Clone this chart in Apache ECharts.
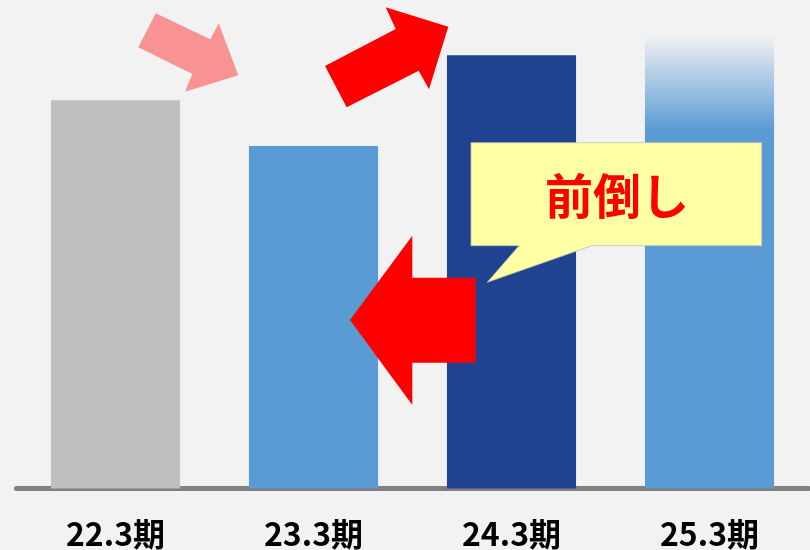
<!DOCTYPE html>
<html>
<head>
<meta charset="utf-8">
<script src="https://cdn.jsdelivr.net/npm/echarts@6/dist/echarts.min.js"></script>
<style>
html,body{margin:0;padding:0;background:#f2f2f2;}
#main{width:810px;height:550px;}
</style>
</head>
<body>
<div id="main"></div>
<script>
var categories = ['22.3期', '23.3期', '24.3期', '25.3期'];
var values = [79.5, 70.1, 88.7, 92.8];
var barColors = ['#bfbfbf', '#5b9bd5', '#1f4391', 'gradient'];
var calloutText = '前倒し';

var chart = echarts.init(document.getElementById('main'));

var dataItems = values.map(function (v, i) {
  var c = barColors[i];
  if (c === 'gradient') {
    c = new echarts.graphic.LinearGradient(0, 0, 0, 1, [
      { offset: 0, color: 'rgba(91,155,213,0)' },
      { offset: 0.21, color: '#5b9bd5' },
      { offset: 1, color: '#5b9bd5' }
    ]);
  }
  return { value: v, itemStyle: { color: c } };
});

var option = {
  backgroundColor: '#f2f2f2',
  animation: false,
  grid: { left: 16.5, right: 1.5, top: 0, bottom: 61.5, containLabel: false },
  xAxis: {
    type: 'category',
    data: categories,
    axisLine: { show: true, lineStyle: { color: '#808080', width: 5 } },
    axisTick: { show: false },
    axisLabel: {
      margin: 29,
      fontSize: 32,
      fontWeight: 'bold',
      color: '#000000',
      fontFamily: 'Noto Sans CJK JP'
    }
  },
  yAxis: {
    type: 'value',
    min: 0,
    max: 100,
    show: false,
    splitLine: { show: false }
  },
  series: [{
    type: 'bar',
    data: dataItems,
    barWidth: '65.2%',
    z: 2
  }],
  graphic: [
    {
      type: 'polygon', z: 100,
      shape: { points: [[155.7,13.3],[210.3,39.3],[218.7,23.3],[238.3,75.3],[185,91.7],[192.3,74],[138.3,47.3]] },
      style: { fill: '#f99393' }
    },
    {
      type: 'polygon', z: 100,
      shape: { points: [[325,66],[395.7,29],[385.7,7.3],[448.3,26.7],[429,89.3],[418.7,70.7],[346.7,107.3]] },
      style: { fill: '#ff0000' }
    },
    {
      type: 'polygon', z: 100,
      shape: { points: [[350,320],[412.3,235.7],[412.3,277.7],[475.7,277.7],[475.7,362.7],[412.3,362.7],[412.3,405]] },
      style: { fill: '#ff0000' }
    },
    {
      type: 'polygon', z: 101,
      shape: { points: [[471,142.7],[761.7,142.7],[761.7,245.7],[591.7,245.7],[487.3,282.3],[519,245.7],[471,245.7]] },
      style: { fill: '#ffffa6', stroke: '#b9c2a8', lineWidth: 0.8 }
    },
    {
      type: 'text', z: 102,
      x: 617, y: 196,
      style: {
        text: calloutText,
        fill: '#ff0000',
        font: 'bold 48px "Noto Sans CJK JP"',
        align: 'center',
        verticalAlign: 'middle'
      }
    }
  ]
};
chart.setOption(option);
</script>
</body>
</html>
